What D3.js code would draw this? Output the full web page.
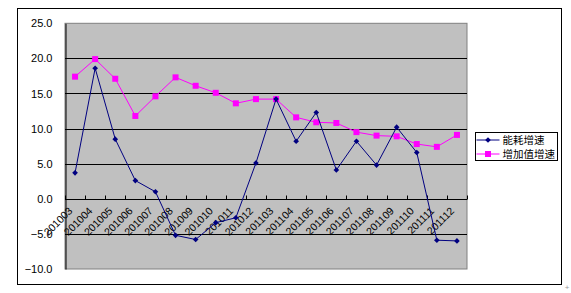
<!DOCTYPE html>
<html>
<head>
<meta charset="utf-8">
<script src="https://cdn.jsdelivr.net/npm/d3@7"></script>
<style>
	body { margin: 0; background: #fff; }
	svg { display: block; }
</style>
</head>
<body>
<svg id="chart" width="571" height="293"></svg>
<script>
// data
var months = ['201003', '201004', '201005', '201006', '201007', '201008', '201009', '201010', '201011', '201012',
	'201103', '201104', '201105', '201106', '201107', '201108', '201109', '201110', '201111', '201112'];
var energyGrowth = [3.7, 18.6, 8.5, 2.6, 1.0, -5.2, -5.8, -3.4, -2.7, 5.1,
	14.2, 8.2, 12.3, 4.1, 8.2, 4.8, 10.2, 6.6, -5.9, -6.0];
var valueGrowth = [17.4, 19.9, 17.1, 11.8, 14.6, 17.3, 16.1, 15.1, 13.6, 14.2,
	14.2, 11.6, 10.9, 10.8, 9.5, 9.0, 8.9, 7.8, 7.4, 9.1];
var yTicks = [-10, -5, 0, 5, 10, 15, 20, 25];
var seriesNames = ['能耗增速', '增加值增速'];

var svg = d3.select('#chart');
var plot = { left: 65, right: 467, top: 23.3, bottom: 269 };

var colors = { energy: '#000080', value: '#ff00ff' };

// outer frame
svg.append('rect').attr('x', 17.5).attr('y', 8.5).attr('width', 544).attr('height', 276)
	.attr('fill', '#fff').attr('stroke', '#000').attr('stroke-width', 1);

var scaleX = d3.scaleBand().domain(months).range([plot.left, plot.right]).padding(0);
var scaleY = d3.scaleLinear().domain([-10, 25]).range([plot.bottom, plot.top]);
var cx = function(d, i) { return scaleX(months[i]) + scaleX.bandwidth() / 2; };

// plot background
svg.append('rect').attr('x', plot.left).attr('y', plot.top)
	.attr('width', plot.right - plot.left).attr('height', plot.bottom - plot.top)
	.attr('fill', '#c0c0c0').attr('stroke', '#808080').attr('stroke-width', 1);

// gridlines
svg.append('g').selectAll('line').data(yTicks.filter(function(d) { return d > -10 && d < 25; }))
	.enter().append('line')
	.attr('x1', plot.left).attr('x2', plot.right)
	.attr('y1', function(d) { return Math.round(scaleY(d)) + 0.5; })
	.attr('y2', function(d) { return Math.round(scaleY(d)) + 0.5; })
	.attr('stroke', '#000').attr('stroke-width', 1);

// y axis
var yAxis = d3.axisLeft(scaleY).tickValues(yTicks).tickSize(0).tickPadding(13).tickFormat(d3.format('.1f'));
var gy = svg.append('g').attr('transform', 'translate(' + (plot.left + 0.5) + ',0)').call(yAxis);
gy.select('.domain').attr('stroke', '#000');
gy.selectAll('text').attr('font-family', 'Liberation Sans, Arial, sans-serif').attr('font-size', 11).attr('fill', '#000');

// x axis on the zero line, ticks pointing up
var zeroY = Math.round(scaleY(0)) + 0.5;
var bounds = months.map(function(m) { return scaleX(m); }).concat([plot.right]);
svg.append('g').selectAll('line').data(bounds).enter().append('line')
	.attr('x1', function(d) { return Math.round(d) + 0.5; })
	.attr('x2', function(d) { return Math.round(d) + 0.5; })
	.attr('y1', zeroY - 4).attr('y2', zeroY)
	.attr('stroke', '#000');

svg.append('g').selectAll('text').data(months).enter().append('text')
	.attr('transform', function(d, i) { return 'translate(' + (cx(d, i) - 2) + ',' + (zeroY + 12) + ') rotate(-45)'; })
	.attr('text-anchor', 'end')
	.attr('font-family', 'Liberation Sans, Arial, sans-serif').attr('font-size', 10.5)
	.attr('fill', '#000')
	.text(function(d) { return d; });

// lines
var line = d3.line().x(function(d, i) { return cx(d, i); }).y(function(d) { return scaleY(d); });

svg.append('path').datum(valueGrowth).attr('d', line)
	.attr('fill', 'none').attr('stroke', colors.value).attr('stroke-width', 1);
svg.append('g').selectAll('rect').data(valueGrowth).enter().append('rect')
	.attr('x', function(d, i) { return cx(d, i) - 3; })
	.attr('y', function(d) { return scaleY(d) - 3; })
	.attr('width', 6).attr('height', 6).attr('fill', colors.value);

svg.append('path').datum(energyGrowth).attr('d', line)
	.attr('fill', 'none').attr('stroke', colors.energy).attr('stroke-width', 1);
// excel style diamond: a square turned by 45 degrees
var diamond = d3.symbol().type(d3.symbolSquare).size(16);
svg.append('g').selectAll('path').data(energyGrowth).enter().append('path')
	.attr('d', diamond)
	.attr('transform', function(d, i) { return 'translate(' + cx(d, i) + ',' + scaleY(d) + ') rotate(45)'; })
	.attr('fill', colors.energy);

// legend
var legend = svg.append('g').attr('transform', 'translate(475.5,132.5)');
legend.append('rect').attr('width', 82).attr('height', 28).attr('fill', '#fff').attr('stroke', '#000');
var rows = legend.selectAll('g.row').data(seriesNames).enter().append('g')
	.attr('class', 'row')
	.attr('transform', function(d, i) { return 'translate(0,' + (7.5 + i * 14) + ')'; });
rows.append('line').attr('x1', 1).attr('x2', 24).attr('y1', 0).attr('y2', 0)
	.attr('stroke', function(d, i) { return i === 0 ? colors.energy : colors.value; });
rows.each(function(d, i) {
	var row = d3.select(this);
	if (i === 0) row.append('path').attr('d', diamond).attr('transform', 'translate(12.5,0) rotate(45)').attr('fill', colors.energy);
	else row.append('rect').attr('x', 9.5).attr('y', -3).attr('width', 6).attr('height', 6).attr('fill', colors.value);
});
rows.append('text').attr('x', 27).attr('y', 0).attr('dy', '0.36em')
	.attr('font-family', 'Noto Sans CJK SC, sans-serif').attr('font-size', 10.5).attr('fill', '#000')
	.text(function(d) { return d; });

// small mark in the bottom right corner
svg.append('text').attr('x', 567).attr('y', 290).attr('text-anchor', 'middle')
	.attr('font-family', 'Liberation Sans, Arial, sans-serif').attr('font-size', 8).attr('fill', '#999').text('+');
</script>
</body>
</html>
